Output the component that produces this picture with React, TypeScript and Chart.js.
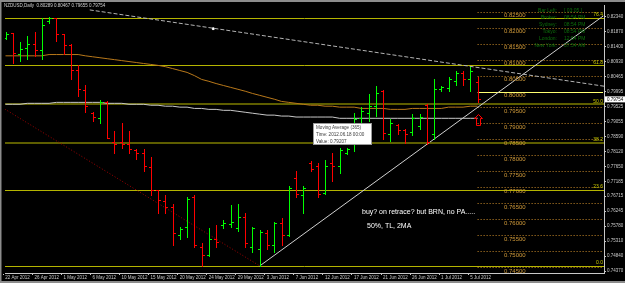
import React, { useEffect, useRef } from "react";
import { Chart, registerables } from "chart.js";
Chart.register(...registerables);

// ---- data (bar index 0 = 22 Apr 2012 daily bars, Sunday bars included) ----
const opens = [
  0.8169, 0.8184, 0.8119, 0.8138, 0.815, 0.8131, 0.8222, 0.8231, 0.8181, 0.8147,
  0.8066, 0.8004, 0.7932, 0.7916, 0.7966, 0.7842, 0.7842, 0.7836, 0.7817, 0.7807,
  0.7764, 0.7692, 0.7658, 0.7637, 0.7549, 0.7574, 0.7668, 0.7512, 0.7487, 0.7537,
  0.758, 0.7583, 0.7571, 0.7608, 0.7512, 0.7506, 0.7555, 0.7518, 0.7587, 0.7549,
  0.773, 0.7674, 0.7776, 0.7767, 0.7683, 0.7776, 0.7767, 0.7807, 0.7845, 0.7916,
  0.7932, 0.7954, 0.8001, 0.7867, 0.7895, 0.7879, 0.7873, 0.7892, 0.7957, 0.7867,
  0.8007, 0.801, 0.8032, 0.8057, 0.8038, 0.8029,
];
const highs = [
  0.8187, 0.8184, 0.8156, 0.8175, 0.8187, 0.8231, 0.8234, 0.8231, 0.8181, 0.815,
  0.8082, 0.8019, 0.7935, 0.7972, 0.7969, 0.7876, 0.7901, 0.7876, 0.7821, 0.7821,
  0.7795, 0.7692, 0.7677, 0.7646, 0.7574, 0.7668, 0.7674, 0.7524, 0.7571, 0.758,
  0.7596, 0.7643, 0.7646, 0.7618, 0.7574, 0.7565, 0.7565, 0.759, 0.7602, 0.7704,
  0.7752, 0.7704, 0.7783, 0.7776, 0.7786, 0.7807, 0.7823, 0.7823, 0.7932, 0.7951,
  0.7991, 0.8016, 0.8004, 0.7913, 0.7898, 0.7882, 0.7929, 0.7929, 0.796, 0.8038,
  0.8016, 0.8047, 0.8063, 0.8063, 0.8078, 0.8047,
];
const lows = [
  0.8166, 0.8088, 0.8097, 0.8103, 0.8112, 0.8103, 0.8215, 0.8159, 0.8119, 0.8038,
  0.7985, 0.7935, 0.7907, 0.7901, 0.7854, 0.7807, 0.7823, 0.7807, 0.7789, 0.7752,
  0.7677, 0.7618, 0.7618, 0.7518, 0.7537, 0.7543, 0.7512, 0.7453, 0.7484, 0.7512,
  0.7571, 0.7574, 0.7562, 0.7512, 0.7496, 0.7453, 0.7506, 0.7496, 0.7518, 0.7546,
  0.7668, 0.7618, 0.7752, 0.7668, 0.768, 0.772, 0.7745, 0.7804, 0.7814, 0.7892,
  0.7907, 0.7923, 0.7851, 0.7845, 0.7867, 0.7839, 0.7864, 0.7882, 0.7836, 0.7851,
  0.8001, 0.8001, 0.8022, 0.8022, 0.8001, 0.7966,
];
const closes = [
  0.8181, 0.8122, 0.8134, 0.815, 0.8131, 0.8209, 0.8231, 0.8181, 0.8147, 0.8066,
  0.8007, 0.7954, 0.792, 0.7966, 0.7854, 0.7836, 0.7836, 0.7821, 0.7807, 0.7767,
  0.7692, 0.7661, 0.7637, 0.7555, 0.7568, 0.7664, 0.7518, 0.7487, 0.7537, 0.7527,
  0.7587, 0.759, 0.7608, 0.7524, 0.7571, 0.7558, 0.7518, 0.7587, 0.7549, 0.7698,
  0.768, 0.7698, 0.7758, 0.768, 0.7767, 0.7767, 0.7817, 0.7821, 0.7913, 0.7938,
  0.7954, 0.7995, 0.787, 0.7901, 0.7879, 0.7867, 0.7916, 0.792, 0.7842, 0.8007,
  0.8013, 0.8038, 0.8057, 0.8038, 0.8063, 0.7975,
];
const maFast = [
  0.8112, 0.8112, 0.8112, 0.8112, 0.8112, 0.8112, 0.8116, 0.8116, 0.8116, 0.8116,
  0.8116, 0.8112, 0.8109, 0.8106, 0.8103, 0.81, 0.8097, 0.8094, 0.8091, 0.8088,
  0.8085, 0.8082, 0.8078, 0.8072, 0.8066, 0.806, 0.805, 0.8038, 0.8032, 0.8025,
  0.8019, 0.8013, 0.8007, 0.8001, 0.7994, 0.7988, 0.7982, 0.7976, 0.7969, 0.7966,
  0.7963, 0.796, 0.7957, 0.7957, 0.7954, 0.7954, 0.7951, 0.7951, 0.7951, 0.7947,
  0.7947, 0.7947, 0.7947, 0.7944, 0.7944, 0.7944, 0.7947, 0.7947, 0.7947, 0.7947,
  0.7947, 0.7951, 0.7951, 0.7951, 0.7954, 0.7954,
];
const ma365 = [
  0.796, 0.796, 0.796, 0.7963, 0.7963, 0.7963, 0.7963, 0.7966, 0.7966, 0.7966,
  0.7966, 0.7966, 0.7966, 0.7966, 0.7963, 0.7963, 0.7963, 0.796, 0.796, 0.796,
  0.7957, 0.7957, 0.7954, 0.7954, 0.7951, 0.7951, 0.7947, 0.7947, 0.7944, 0.7944,
  0.7941, 0.7941, 0.7938, 0.7935, 0.7932, 0.7929, 0.7926, 0.7926, 0.7923, 0.7923,
  0.792, 0.792, 0.792, 0.792, 0.792, 0.792, 0.7916, 0.7916, 0.7916, 0.7916,
  0.7916, 0.7916, 0.7916, 0.7916, 0.7916, 0.7916, 0.7916, 0.7916, 0.7916, 0.7916,
  0.7916, 0.7916, 0.7916, 0.7916, 0.7916, 0.7916,
];
const xTickBars = [0, 4, 8, 12, 16, 20, 24, 28, 32, 36, 40, 44, 48, 52, 56, 60, 64];
const xTickLabels = [
  "22 Apr 2012", "26 Apr 2012", "1 May 2012", "6 May 2012", "10 May 2012", "15 May 2012",
  "20 May 2012", "24 May 2012", "29 May 2012", "3 Jun 2012", "7 Jun 2012", "12 Jun 2012",
  "17 Jun 2012", "21 Jun 2012", "26 Jun 2012", "1 Jul 2012", "5 Jul 2012",
];
const yTickLabels = [
  "0.82340", "0.81870", "0.81400", "0.80930", "0.80465", "0.79995", "0.79525", "0.79055",
  "0.78590", "0.78120", "0.77650", "0.77185", "0.76715", "0.76245", "0.75780", "0.75310",
  "0.74840", "0.74370",
];
const yTickValues = yTickLabels.map((s) => parseFloat(s));
const fibPrices = [0.7453, 0.7692, 0.7839, 0.796, 0.8082, 0.8231];
const fibNames = ["0.0", "23.6", "38.2", "50.0", "61.8", "76.4"];
const roundLevels = [
  0.825, 0.82, 0.815, 0.81, 0.805, 0.8, 0.795, 0.79, 0.785, 0.78, 0.775, 0.77, 0.765,
  0.76, 0.755, 0.75, 0.745,
];
const trendUp = [{ x: 35, y: 0.7453 }, { x: 82.3, y: 0.8237 }];
const trendDown = [{ x: 11.6, y: 0.8256 }, { x: 82.6, y: 0.8016 }];
const trendRed = [{ x: -0.1, y: 0.7945 }, { x: 35, y: 0.7453 }];
const anchorDot = [{ x: 28.6, y: 0.8197 }];
const infoLabels = ["Bar Left:", "Broker:", "Sydney:", "Tokyo:", "London:", "New York:"];
const infoValues = ["[ 03:05 ]", "08:54 PM", "08:54 PM", "08:54 PM", "12:54 PM", "07:54 AM"];
const titleText = "NZDUSD,Daily  0.80289 0.80467 0.79655 0.79754";
const tipLines = ["Moving Average (365)", "Time: 2012.06.18 00:00", "Value: 0.79207"];
const note1 = "buy? on retrace? but BRN, no PA.....";
const note2 = "50%, TL, 2MA";
const lastPrice = 0.79754;

const FONT = "'Liberation Sans', Arial, sans-serif";

const drawPlugin = {
  id: "mt4draw",
  beforeDraw(chart: any) {
    const { ctx, width, height } = chart;
    ctx.save();
    ctx.fillStyle = "#000000";
    ctx.fillRect(0, 0, width, height);
    ctx.fillStyle = "#8c8c8c";
    ctx.fillRect(0, 0, width, 2);
    ctx.fillRect(0, 0, 1.5, height);
    ctx.fillRect(0, height - 2, width, 2);
    ctx.restore();
  },
  beforeDatasetsDraw(chart: any) {
    const { ctx, chartArea: a, scales } = chart;
    const xs = scales.x, ys = scales.y;
    ctx.save();
    ctx.beginPath();
    ctx.rect(a.left, a.top, a.right - a.left, a.bottom - a.top);
    ctx.clip();
    // round-number dotted levels
    const x0 = xs.getPixelForValue(opens.length - 1);
    roundLevels.forEach((p) => {
      const py = Math.round(ys.getPixelForValue(p)) + 0.5;
      ctx.beginPath();
      if (Math.abs(p - 0.8) < 1e-6) {
        ctx.setLineDash([]);
        ctx.strokeStyle = "#ffff70";
      } else {
        ctx.setLineDash([1, 2]);
        ctx.strokeStyle = "#c88a2a";
      }
      ctx.lineWidth = 1;
      ctx.moveTo(x0, py);
      ctx.lineTo(a.right - 1, py);
      ctx.stroke();
    });
    ctx.setLineDash([]);
    // fib levels
    fibPrices.forEach((p, i) => {
      const heavy = i === 2 || i === 3;
      const py = ys.getPixelForValue(p);
      ctx.beginPath();
      ctx.strokeStyle = heavy ? "#5e5e00" : "#b4b400";
      ctx.lineWidth = heavy ? 2 : 1;
      const yy = heavy ? Math.round(py) : Math.round(py) + 0.5;
      ctx.moveTo(a.left, yy);
      ctx.lineTo(a.right, yy);
      ctx.stroke();
    });
    ctx.restore();
  },
  afterDatasetsDraw(chart: any) {
    const { ctx, chartArea: a, scales } = chart;
    const xs = scales.x, ys = scales.y;
    ctx.save();
    ctx.beginPath();
    ctx.rect(a.left, a.top, a.right - a.left, a.bottom - a.top);
    ctx.clip();
    // OHLC bars
    for (let i = 0; i < opens.length; i++) {
      const px = Math.round(xs.getPixelForValue(i)) + 0.5;
      const up = closes[i] >= opens[i];
      ctx.strokeStyle = up ? "#00ff00" : "#ff0000";
      ctx.lineWidth = 1;
      ctx.beginPath();
      ctx.moveTo(px, Math.round(ys.getPixelForValue(highs[i])));
      ctx.lineTo(px, Math.round(ys.getPixelForValue(lows[i])) + 1);
      const oy = Math.round(ys.getPixelForValue(opens[i])) + 0.5;
      const cy = Math.round(ys.getPixelForValue(closes[i])) + 0.5;
      ctx.moveTo(px - 2.5, oy);
      ctx.lineTo(px, oy);
      ctx.moveTo(px, cy);
      ctx.lineTo(px + 2.5, cy);
      ctx.stroke();
    }
    // round-level labels
    ctx.font = `6px ${FONT}`;
    ctx.fillStyle = "#d09a3a";
    ctx.textAlign = "center";
    ctx.textBaseline = "top";
    const lx = (xs.getPixelForValue(opens.length - 1) + a.right) / 2 - 26;
    roundLevels.forEach((p) => {
      const py = ys.getPixelForValue(p);
      ctx.fillText(p.toFixed(5), lx, py + 1);
    });
    // fib labels
    ctx.font = `5px ${FONT}`;
    ctx.fillStyle = "#c8c800";
    ctx.textAlign = "right";
    ctx.textBaseline = "bottom";
    fibPrices.forEach((p, i) => {
      ctx.fillText(fibNames[i], a.right - 1, ys.getPixelForValue(p) - 0.5);
    });
    // up arrow
    const ax = Math.round(xs.getPixelForValue(opens.length - 1)) + 0.5;
    const ay = Math.round(ys.getPixelForValue(0.7929)) + 0.5;
    ctx.strokeStyle = "#ff0000";
    ctx.lineWidth = 1;
    ctx.beginPath();
    ctx.moveTo(ax, ay);
    ctx.lineTo(ax + 4, ay + 4);
    ctx.lineTo(ax + 2, ay + 4);
    ctx.lineTo(ax + 2, ay + 11);
    ctx.lineTo(ax - 2, ay + 11);
    ctx.lineTo(ax - 2, ay + 4);
    ctx.lineTo(ax - 4, ay + 4);
    ctx.closePath();
    ctx.stroke();
    // notes
    ctx.fillStyle = "#ffffff";
    ctx.font = `7px ${FONT}`;
    ctx.textAlign = "left";
    ctx.textBaseline = "middle";
    ctx.fillText(note1, 362, 212);
    ctx.fillText(note2, 367, 226);
    // tooltip box
    ctx.fillStyle = "#ffffff";
    ctx.fillRect(313, 123, 59, 22);
    ctx.strokeStyle = "#9a9a9a";
    ctx.strokeRect(313.5, 123.5, 58, 21);
    ctx.fillStyle = "#3c3c3c";
    ctx.font = `4.6px ${FONT}`;
    tipLines.forEach((t, i) => ctx.fillText(t, 316, 128 + i * 7));
    // info panel
    ctx.font = `5px ${FONT}`;
    ctx.fillStyle = "#0b6e0b";
    infoLabels.forEach((t, i) => {
      ctx.textAlign = "right";
      ctx.fillText(t, 557, 11 + i * 6.9);
      ctx.textAlign = "left";
      ctx.fillText(infoValues[i], 564, 11 + i * 6.9);
    });
    ctx.restore();
    // title
    ctx.save();
    ctx.font = `4.5px ${FONT}`;
    ctx.fillStyle = "#d0d0d0";
    ctx.textAlign = "left";
    ctx.textBaseline = "middle";
    ctx.fillText(titleText, 4, 5.5);
    // current price box on axis
    const lp = ys.getPixelForValue(lastPrice);
    ctx.fillStyle = "#ffffff";
    ctx.fillRect(a.right + 1, lp - 3, 20, 6);
    ctx.fillStyle = "#000000";
    ctx.fillText(lastPrice.toFixed(5), a.right + 3, lp);
    ctx.restore();
  },
};

export default function App() {
  const ref = useRef<HTMLCanvasElement | null>(null);
  useEffect(() => {
    document.body.style.margin = "0";
    const canvas = ref.current!;
    const tickFont = { family: FONT, size: 4.5 };
    const chart = new Chart(canvas, {
      type: "line",
      data: {
        datasets: [
          {
            data: ma365.map((v, i) => ({ x: i, y: v })),
            borderColor: "#c8c8c8",
            borderWidth: 1,
            pointRadius: 0,
          },
          {
            data: maFast.map((v, i) => ({ x: i, y: v })),
            borderColor: "#b8781a",
            borderWidth: 1,
            pointRadius: 0,
          },
          {
            data: trendRed,
            borderColor: "#a00000",
            borderWidth: 1,
            borderDash: [1, 2],
            pointRadius: 0,
          },
          {
            data: trendDown,
            borderColor: "#b4b4b4",
            borderWidth: 1,
            borderDash: [4, 2],
            pointRadius: 0,
          },
          {
            data: trendUp,
            borderColor: "#d0d0d0",
            borderWidth: 1,
            pointRadius: 0,
          },
          {
            data: anchorDot,
            borderColor: "#ffffff",
            backgroundColor: "#ffffff",
            pointStyle: "rect",
            pointRadius: 1.2,
            showLine: false,
          },
        ],
      },
      options: {
        animation: false,
        responsive: false,
        maintainAspectRatio: false,
        devicePixelRatio: 1,
        layout: { padding: { left: 2, top: 3, right: 0, bottom: 0 } },
        plugins: { legend: { display: false }, tooltip: { enabled: false } },
        elements: { line: { tension: 0 } },
        scales: {
          x: {
            type: "linear",
            min: -0.07,
            max: 82.4,
            position: "bottom",
            afterBuildTicks: (s: any) => {
              s.ticks = xTickBars.map((v) => ({ value: v - 0.3 }));
            },
            afterFit: (s: any) => {
              s.height = 10;
            },
            ticks: {
              autoSkip: false,
              maxRotation: 0,
              minRotation: 0,
              align: "start",
              labelOffset: 2,
              padding: 0,
              color: "#c8c8c8",
              font: tickFont,
              callback: (_v: any, i: number) => xTickLabels[i],
            },
            grid: { drawOnChartArea: false, tickLength: 2, color: "#c8c8c8" },
            border: { display: true, color: "#c8c8c8" },
          },
          y: {
            type: "linear",
            position: "right",
            min: 0.74308,
            max: 0.82714,
            afterBuildTicks: (s: any) => {
              s.ticks = yTickValues.map((v) => ({ value: v }));
            },
            afterFit: (s: any) => {
              s.width = 21;
            },
            ticks: {
              autoSkip: false,
              padding: 1,
              color: "#c8c8c8",
              font: tickFont,
              callback: (_v: any, i: number) => yTickLabels[i],
            },
            grid: { drawOnChartArea: false, tickLength: 2, color: "#c8c8c8" },
            border: { display: true, color: "#c8c8c8" },
          },
        },
      } as any,
      plugins: [drawPlugin],
    });
    return () => chart.destroy();
  }, []);
  return (
    <div style={{ position: "fixed", left: 0, top: 0, width: 625, height: 283, background: "#000" }}>
      <canvas ref={ref} width={625} height={283} style={{ width: 625, height: 283, display: "block" }} />
    </div>
  );
}
